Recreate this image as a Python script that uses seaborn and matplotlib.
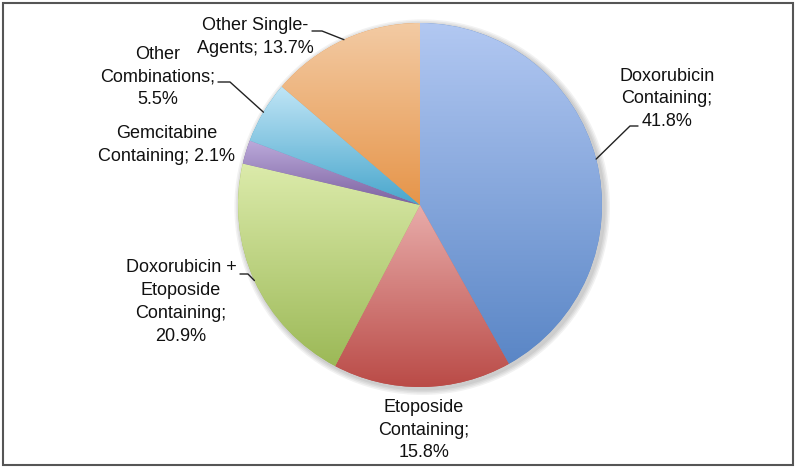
import numpy as np
import matplotlib
matplotlib.use("Agg")
import matplotlib.pyplot as plt
import seaborn as sns
from matplotlib.colors import ListedColormap
from matplotlib.patches import Rectangle, Circle

# data (clockwise from 12 o'clock)
labels = ["Doxorubicin\nContaining;\n41.8%",
          "Etoposide\nContaining;\n15.8%",
          "Doxorubicin +\nEtoposide\nContaining;\n20.9%",
          "Gemcitabine\nContaining; 2.1%",
          "Other\nCombinations;\n5.5%",
          "Other Single-\nAgents; 13.7%"]
shares = [41.8, 15.8, 20.9, 2.1, 5.5, 13.7]
# gradient ends (top, bottom) for each slice
light_cols = ["#b2c8f2", "#e8acaa", "#dcebab", "#bcaadb", "#c0e5f6", "#f3cba4"]
dark_cols = ["#5a86c6", "#ba4b47", "#9cb957", "#7c62a0", "#48a6cc", "#e6954a"]

# layout, in pixels of the 800x469 picture
W, H = 800, 469
CX, CY, R = 420, 205, 182
label_pos = [(667, 99), (424, 430), (181, 302), (167, 145), (158, 77), (255, 37)]
# elbows of the leader lines (None = no leader)
elbows = [[(630, 126), (638, 126)], None, [(248, 274), (240, 274)], None,
          [(230, 82), (218, 82)], [(322, 31), (312, 31)]]


def px(x, y):
    return (x - CX) / R, (CY - y) / R


sns.set_style("white")
plt.rcParams["font.family"] = ["Liberation Sans", "DejaVu Sans"]

fig = plt.figure(figsize=(8, 4.69), dpi=100)
ax = fig.add_axes([0, 0, 1, 1])

# soft shadow
for i, a in enumerate([0.05, 0.05, 0.05, 0.05]):
    ax.add_patch(Circle((0.012, -0.012), 1 + 0.008 * (i + 1), color="black",
                        alpha=a, lw=0, zorder=0))

wedges, _ = ax.pie(shares, startangle=90, counterclock=False, radius=1,
                   center=(0, 0), frame=True,
                   wedgeprops=dict(linewidth=0, zorder=1))

for w, lc, dc in zip(wedges, light_cols, dark_cols):
    ext = w.get_path().get_extents()
    cmap = ListedColormap(sns.blend_palette([dc, lc], 256))
    grad = np.linspace(0, 1, 256).reshape(-1, 1)
    w.set_facecolor(dc)
    im = ax.imshow(grad, cmap=cmap, origin="lower", aspect="auto",
                   extent=[ext.x0, ext.x1, ext.y0, ext.y1], zorder=2,
                   interpolation="bilinear")
    im.set_clip_path(w)

ax.set_xlim(-CX / R, (W - CX) / R)
ax.set_ylim((CY - H) / R, CY / R)
ax.set_aspect("auto")
ax.axis("off")

for w, lab, pos, el in zip(wedges, labels, label_pos, elbows):
    tx, ty = px(*pos)
    ax.text(tx, ty, lab, ha="center", va="center", multialignment="center",
            fontsize=13, linespacing=1.45, color="#111111", zorder=4)
    if el is not None:
        mid = np.deg2rad((w.theta1 + w.theta2) / 2)
        pts = [(np.cos(mid), np.sin(mid))] + [px(*p) for p in el]
        xs, ys = zip(*pts)
        ax.plot(xs, ys, color="#222222", lw=1.0, zorder=3)

fig.add_artist(Rectangle((3 / W, 4 / H), 790 / W, 462 / H, transform=fig.transFigure,
                         fill=False, edgecolor="#555555", lw=1.5))

fig.savefig("out.png", dpi=100, facecolor="white")
